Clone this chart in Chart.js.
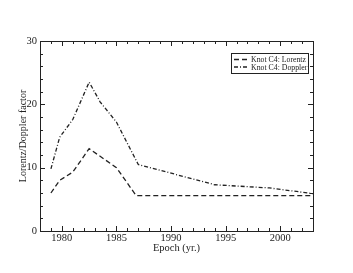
<!DOCTYPE html>
<html>
<head>
<meta charset="utf-8">
<script src="https://cdn.jsdelivr.net/npm/chart.js@4/dist/chart.umd.min.js"></script>
<style>
  html, body { margin: 0; padding: 0; background: #fff; }
  #wrap { width: 353px; height: 273px; }
</style>
</head>
<body>
<div id="wrap"><canvas id="c"></canvas></div>
<script>
// Knot C4 data (epoch in years)
const lorentzYears = [1979, 1979.8, 1981, 1982.5, 1985, 1986.8, 2003];
const lorentzVals  = [6.0, 8.0, 9.3, 13.0, 10.0, 5.6, 5.6];
const dopplerYears = [1979, 1979.8, 1981, 1982.5, 1983.5, 1985, 1987, 1994, 1999, 2003];
const dopplerVals  = [9.8, 14.8, 17.6, 23.5, 20.4, 17.2, 10.5, 7.3, 6.8, 5.9];

const xTicks = [1980, 1985, 1990, 1995, 2000];
const yTicks = [0, 10, 20, 30];
const seriesLabels = ['Knot C4: Lorentz', 'Knot C4: Doppler'];

const FONT = '"Liberation Serif", "DejaVu Serif", serif';
const INK = '#222';

function toPoints(xs, ys) {
    return xs.map((x, i) => ({ x: x, y: ys[i] }));
}

// frame, inward ticks on all four sides, and the boxed legend
const framePlugin = {
    id: 'frame',
    afterDatasetsDraw(chart) {
        const { ctx, chartArea: a, scales: { x, y } } = chart;
        ctx.save();
        ctx.strokeStyle = INK;
        ctx.lineWidth = 1;
        ctx.setLineDash([]);
        ctx.strokeRect(a.left + 0.5, a.top + 0.5, a.right - a.left, a.bottom - a.top);

        ctx.beginPath();
        for (let v = Math.ceil(x.min); v <= x.max; v++) {
            const px = Math.round(x.getPixelForValue(v)) + 0.5;
            const len = xTicks.includes(v) ? 5 : 3;
            ctx.moveTo(px, a.bottom); ctx.lineTo(px, a.bottom - len);
            ctx.moveTo(px, a.top); ctx.lineTo(px, a.top + len);
        }
        for (let v = y.min; v <= y.max; v += 2) {
            const py = Math.round(y.getPixelForValue(v)) + 0.5;
            const len = yTicks.includes(v) ? 5 : 3;
            ctx.moveTo(a.left, py); ctx.lineTo(a.left + len, py);
            ctx.moveTo(a.right, py); ctx.lineTo(a.right - len, py);
        }
        ctx.stroke();

        // legend
        const bx = 231.5, by = 53.5, bw = 77, bh = 20;
        ctx.fillStyle = '#fff';
        ctx.fillRect(bx, by, bw, bh);
        ctx.strokeRect(bx, by, bw, bh);
        ctx.font = '7.8px ' + FONT;
        ctx.textBaseline = 'middle';
        chart.data.datasets.forEach((ds, i) => {
            const ly = by + 6 + i * 7.5;
            ctx.beginPath();
            ctx.setLineDash(ds.borderDash);
            ctx.lineWidth = ds.borderWidth;
            ctx.moveTo(234, ly); ctx.lineTo(247, ly);
            ctx.stroke();
            ctx.setLineDash([]);
            ctx.fillStyle = INK;
            ctx.fillText(ds.label, 251, ly + 0.5);
        });
        ctx.restore();
    }
};

new Chart(document.getElementById('c'), {
    type: 'line',
    data: {
        datasets: [{
            label: seriesLabels[0],
            data: toPoints(lorentzYears, lorentzVals),
            borderColor: INK,
            borderWidth: 1.3,
            borderDash: [5, 3],
            pointRadius: 0,
            tension: 0
        }, {
            label: seriesLabels[1],
            data: toPoints(dopplerYears, dopplerVals),
            borderColor: INK,
            borderWidth: 1.3,
            borderDash: [4, 2, 1, 2],
            pointRadius: 0,
            tension: 0
        }]
    },
    options: {
        responsive: true,
        maintainAspectRatio: false,
        animation: false,
        layout: { padding: { top: 41, right: 40, left: 0, bottom: 18 } },
        plugins: { legend: { display: false }, tooltip: { enabled: false } },
        scales: {
            x: {
                type: 'linear',
                min: 1978,
                max: 2003,
                afterBuildTicks: s => { s.ticks = xTicks.map(v => ({ value: v })); },
                afterFit: s => { s.height = 24; },
                grid: { display: false, drawTicks: false, tickLength: 0 },
                border: { display: false },
                ticks: {
                    color: INK,
                    font: { family: FONT, size: 10.5 },
                    padding: 0.5,
                    maxRotation: 0,
                    callback: v => String(v)
                },
                title: {
                    display: true,
                    text: 'Epoch (yr.)',
                    color: INK,
                    font: { family: FONT, size: 10.5 },
                    padding: { top: 0, bottom: 0 }
                }
            },
            y: {
                min: 0,
                max: 30,
                afterBuildTicks: s => { s.ticks = yTicks.map(v => ({ value: v })); },
                afterFit: s => { s.width = 40; },
                grid: { display: false, drawTicks: false, tickLength: 0 },
                border: { display: false },
                ticks: {
                    color: INK,
                    font: { family: FONT, size: 10.5 },
                    padding: 3
                },
                title: {
                    display: true,
                    text: 'Lorentz/Doppler factor',
                    color: INK,
                    font: { family: FONT, size: 10 },
                    padding: { top: 17, bottom: 0 }
                }
            }
        }
    },
    plugins: [framePlugin]
});
</script>
</body>
</html>
